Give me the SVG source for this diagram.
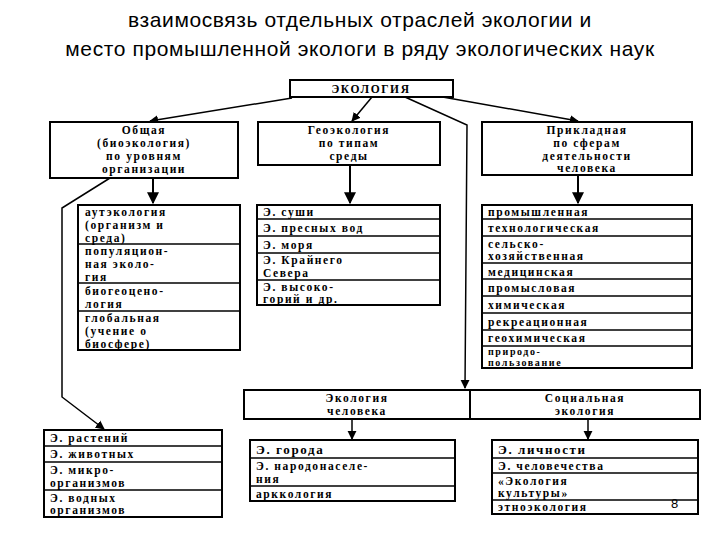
<svg xmlns="http://www.w3.org/2000/svg" width="720" height="540" viewBox="0 0 720 540">
<defs>
<marker id="ah" viewBox="0 0 10 10" refX="9" refY="5" markerWidth="6" markerHeight="7" orient="auto"><path d="M0,0 L10,5 L0,10 z" fill="#000"/></marker>
<style>
.t{font-family:"Liberation Sans",Arial,sans-serif;font-size:21px;letter-spacing:0.6px;fill:#000;text-anchor:middle}
.b{fill:#fff;stroke:#000;stroke-width:2}
.s{stroke:#000;stroke-width:1.3}
.h{font-family:"Liberation Serif","Times New Roman",serif;font-weight:bold;font-size:11.5px;letter-spacing:1.6px;text-anchor:middle;fill:#000}
.l{font-family:"Liberation Serif","Times New Roman",serif;font-weight:bold;font-size:11.5px;letter-spacing:1.6px;fill:#000}
.c{fill:none;stroke:#000;stroke-width:1.5}
</style>
</defs>
<rect width="720" height="540" fill="#fff"/>
<text class="t" x="360" y="27">взаимосвязь отдельных отраслей экологии и</text>
<text class="t" x="360" y="56">место промышленной экологи в ряду экологических наук</text>

<g id="connectors">
<line class="c" x1="292" y1="98" x2="150" y2="121" marker-end="url(#ah)"/>
<line class="c" x1="372" y1="97" x2="352" y2="121" marker-end="url(#ah)"/>
<polyline class="c" points="405,97 467,125 465,388" marker-end="url(#ah)"/>
<line class="c" x1="437" y1="96" x2="578" y2="121" marker-end="url(#ah)"/>
<line class="c" x1="153" y1="178" x2="153" y2="203" marker-end="url(#ah)" style="stroke-width:2"/>
<line class="c" x1="350" y1="165" x2="350" y2="203" marker-end="url(#ah)" style="stroke-width:2"/>
<line class="c" x1="578" y1="175" x2="578" y2="203" marker-end="url(#ah)" style="stroke-width:2"/>
<polyline class="c" points="110,178 62,208 62,397 104,429" marker-end="url(#ah)"/>
<line class="c" x1="352" y1="419" x2="352" y2="439" marker-end="url(#ah)"/>
<line class="c" x1="588" y1="419" x2="588" y2="439" marker-end="url(#ah)"/>
</g>

<g id="ecology"><rect class="b" x="290" y="80" width="163" height="17"/><text class="h" x="371" y="93">ЭКОЛОГИЯ</text></g>

<g id="general"><rect class="b" x="50" y="122" width="188" height="56"/>
<text class="h" x="144" y="134">Общая</text><text class="h" x="144" y="147">(биоэкология)</text><text class="h" x="144" y="160">по уровням</text><text class="h" x="144" y="173">организации</text></g>

<g id="geo"><rect class="b" x="258" y="122" width="182" height="43"/>
<text class="h" x="349" y="134">Геоэкология</text><text class="h" x="349" y="147">по типам</text><text class="h" x="349" y="160">среды</text></g>

<g id="applied"><rect class="b" x="482" y="122" width="210" height="53"/>
<text class="h" x="587" y="134">Прикладная</text><text class="h" x="587" y="147">по сферам</text><text class="h" x="587" y="160">деятельности</text><text class="h" x="587" y="172">человека</text></g>

<g id="general-list"><rect class="b" x="78" y="205" width="162" height="145"/>
<line class="s" x1="78" y1="244" x2="240" y2="244"/><line class="s" x1="78" y1="283" x2="240" y2="283"/><line class="s" x1="78" y1="311" x2="240" y2="311"/>
<text class="l" x="85" y="216">аутэкология</text><text class="l" x="85" y="229">(организм и</text><text class="l" x="85" y="242">среда)</text>
<text class="l" x="85" y="255">популяцион-</text><text class="l" x="85" y="268">ная эколо-</text><text class="l" x="85" y="281">гия</text>
<text class="l" x="85" y="295">биогеоцено-</text><text class="l" x="85" y="308">логия</text>
<text class="l" x="85" y="322">глобальная</text><text class="l" x="85" y="335">(учение о</text><text class="l" x="85" y="348">биосфере)</text></g>

<g id="geo-list"><rect class="b" x="257" y="205" width="183" height="100"/>
<line class="s" x1="257" y1="219" x2="440" y2="219"/><line class="s" x1="257" y1="236" x2="440" y2="236"/><line class="s" x1="257" y1="253" x2="440" y2="253"/><line class="s" x1="257" y1="280" x2="440" y2="280"/>
<text class="l" x="263" y="216">Э. суши</text><text class="l" x="263" y="232">Э. пресных вод</text><text class="l" x="263" y="249">Э. моря</text>
<text class="l" x="263" y="264">Э. Крайнего</text><text class="l" x="263" y="277">Севера</text>
<text class="l" x="263" y="291">Э. высоко-</text><text class="l" x="263" y="303">горий и др.</text></g>

<g id="applied-list"><rect class="b" x="482" y="205" width="210" height="163"/>
<line class="s" x1="482" y1="219" x2="692" y2="219"/><line class="s" x1="482" y1="236" x2="692" y2="236"/><line class="s" x1="482" y1="263" x2="692" y2="263"/><line class="s" x1="482" y1="279" x2="692" y2="279"/><line class="s" x1="482" y1="296" x2="692" y2="296"/><line class="s" x1="482" y1="313" x2="692" y2="313"/><line class="s" x1="482" y1="330" x2="692" y2="330"/><line class="s" x1="482" y1="346" x2="692" y2="346"/>
<text class="l" x="488" y="216">промышленная</text><text class="l" x="488" y="232">технологическая</text>
<text class="l" x="488" y="248">сельско-</text><text class="l" x="488" y="260">хозяйственная</text>
<text class="l" x="488" y="276">медицинская</text><text class="l" x="488" y="292">промысловая</text><text class="l" x="488" y="309">химическая</text>
<text class="l" x="488" y="326">рекреационная</text><text class="l" x="488" y="342">геохимическая</text>
<text class="l" x="488" y="355" style="font-size:10px">природо-</text><text class="l" x="488" y="366" style="font-size:10px">пользование</text></g>

<g id="organisms-list"><rect class="b" x="44" y="430" width="178" height="87"/>
<line class="s" x1="44" y1="446" x2="222" y2="446"/><line class="s" x1="44" y1="462" x2="222" y2="462"/><line class="s" x1="44" y1="490" x2="222" y2="490"/>
<text class="l" x="50" y="442">Э. растений</text><text class="l" x="50" y="458">Э. животных</text>
<text class="l" x="50" y="474">Э. микро-</text><text class="l" x="50" y="487">организмов</text>
<text class="l" x="50" y="502">Э. водных</text><text class="l" x="50" y="514">организмов</text></g>

<g id="human-social"><rect class="b" x="244" y="390" width="456" height="29"/>
<line class="s" x1="470" y1="390" x2="470" y2="419" style="stroke-width:2"/>
<text class="h" x="357" y="402">Экология</text><text class="h" x="357" y="415">человека</text>
<text class="h" x="585" y="402">Социальная</text><text class="h" x="585" y="415">экология</text></g>

<g id="human-list"><rect class="b" x="250" y="440" width="205" height="61"/>
<line class="s" x1="250" y1="458" x2="455" y2="458"/><line class="s" x1="250" y1="486" x2="455" y2="486"/>
<text class="l" x="256" y="454" style="font-size:13px">Э. города</text>
<text class="l" x="256" y="470">Э. народонаселе-</text><text class="l" x="256" y="483">ния</text>
<text class="l" x="256" y="498">арккология</text></g>

<g id="social-list"><rect class="b" x="492" y="440" width="206" height="74"/>
<line class="s" x1="492" y1="458" x2="698" y2="458"/><line class="s" x1="492" y1="473" x2="698" y2="473"/><line class="s" x1="492" y1="500" x2="698" y2="500"/>
<text class="l" x="498" y="454" style="font-size:13px">Э. личности</text><text class="l" x="498" y="470">Э. человечества</text>
<text class="l" x="498" y="485">«Экология</text><text class="l" x="498" y="497">культуры»</text>
<text class="l" x="498" y="511">этноэкология</text></g>

<text x="671" y="508" style="font-family:'Liberation Sans',Arial,sans-serif;font-size:13px">8</text>
</svg>
